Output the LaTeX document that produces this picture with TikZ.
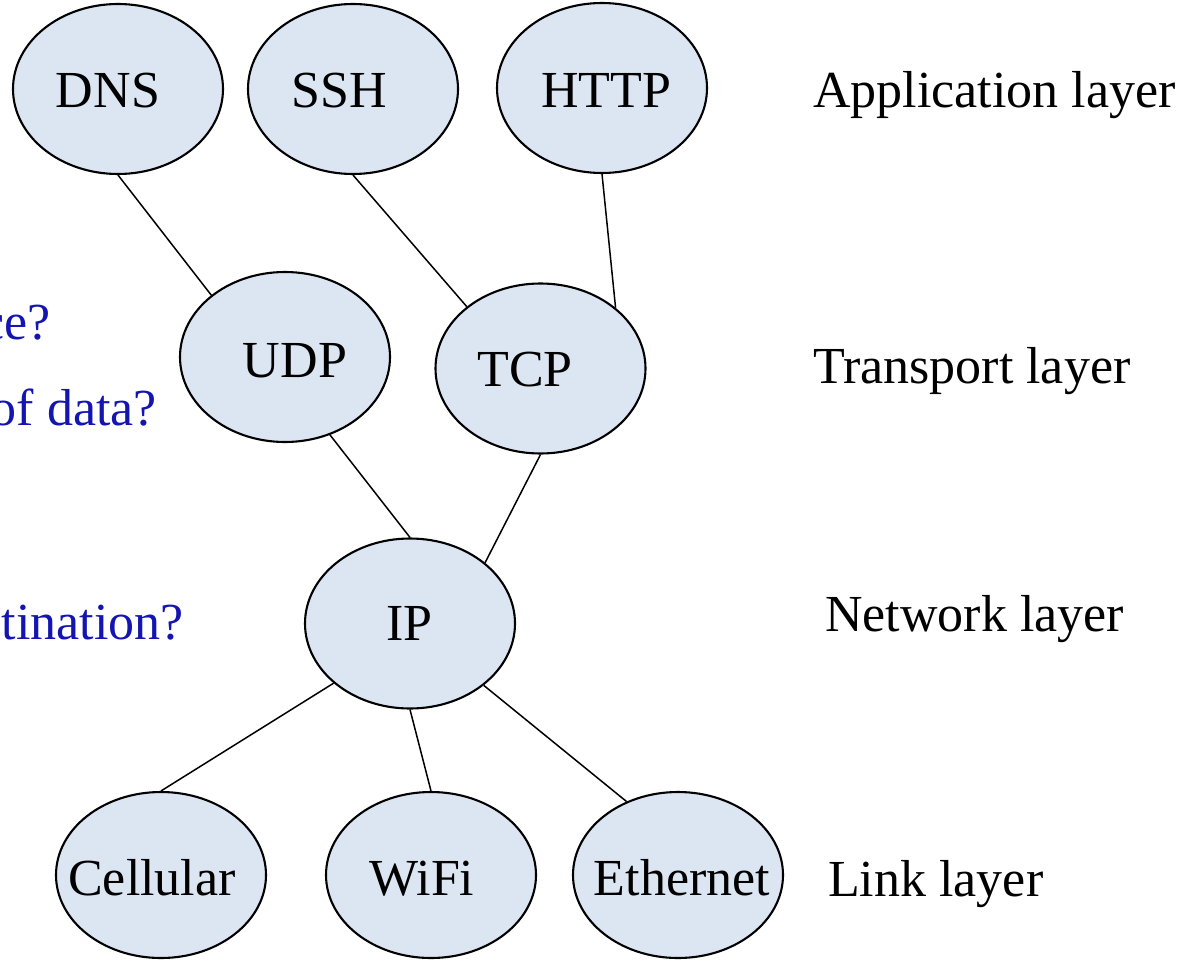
\documentclass[tikz,border=0pt]{standalone}
\usepackage{fontspec}
\setmainfont{Liberation Serif}
\usetikzlibrary{shapes.geometric}
\definecolor{bubble}{RGB}{220,230,242}
\definecolor{askblue}{RGB}{20,20,178}
\tikzset{
  proto/.style={ellipse, draw=black, line width=2.1pt, fill=bubble,
    minimum width=210pt, minimum height=170pt, inner sep=0pt},
  linkproto/.style={proto, minimum height=166pt},
  big/.style={font=\fontsize{52}{62}\selectfont, inner sep=0pt},
  word/.style={big, anchor=base},
  layer/.style={big, anchor=base west},
  ask/.style={big, anchor=base east, text=askblue},
  wire/.style={line width=1.5pt}
}
\begin{document}
\begin{tikzpicture}[x=1pt, y=-1pt]
  \useasboundingbox (0,0) rectangle (1190,963);
  \clip (0,0) rectangle (1190,963);

  % protocol bubbles
  \node[proto] (dns)  at (118,89) {};
  \node[proto] (ssh)  at (353,89) {};
  \node[proto] (http) at (602,88) {};
  \node[proto] (udp)  at (285,357) {};
  \node[proto] (tcp)  at (540.5,368.5) {};
  \node[proto] (ip)   at (410,623.5) {};
  \node[linkproto] (cell) at (161,875) {};
  \node[linkproto] (wifi) at (431,875) {};
  \node[linkproto] (eth)  at (678,875) {};

  % bubble captions
  \node[word] (dnst)  at (108,107) {DNS};
  \node[word] (ssht)  at (339,107) {SSH};
  \node[word] (httpt) at (606,107) {HTTP};
  \node[word] (udpt)  at (295,377) {UDP};
  \node[word] (tcpt)  at (525,386) {TCP};
  \node[word] (ipt)   at (409.5,640) {IP};
  \node[word] (cellt) at (152,895) {Cellular};
  \node[word] (wifit) at (422,895) {WiFi};
  \node[word] (etht)  at (682,895) {Ethernet};

  % layer names
  \node[layer] (lapp) at (813,107) {Application layer};
  \node[layer] (ltra) at (813,383) {Transport layer};
  \node[layer] (lnet) at (825,631) {Network layer};
  \node[layer] (llnk) at (828,896) {Link layer};

  % questions running in from the left
  \node[ask] (q1) at (51,339) {ce?};
  \node[ask] (q2) at (157,425) {of data?};
  \node[ask] (q3) at (184,639) {tination?};

  % protocol stack links
  \draw[wire] (dns.south) -- (udp.140.5);
  \draw[wire] (ssh.south) -- (tcp.140.5);
  \draw[wire] (http.south) -- (tcp.39.9);
  \draw[wire] (udp.300) -- (ip.north);
  \draw[wire] (tcp.south) -- (ip.39.3);
  \draw[wire] (ip.218.9) -- (cell.north);
  \draw[wire] (ip.south) -- (wifi.north);
  \draw[wire] (ip.320.7) -- (eth.125.5);
\end{tikzpicture}
\end{document}
